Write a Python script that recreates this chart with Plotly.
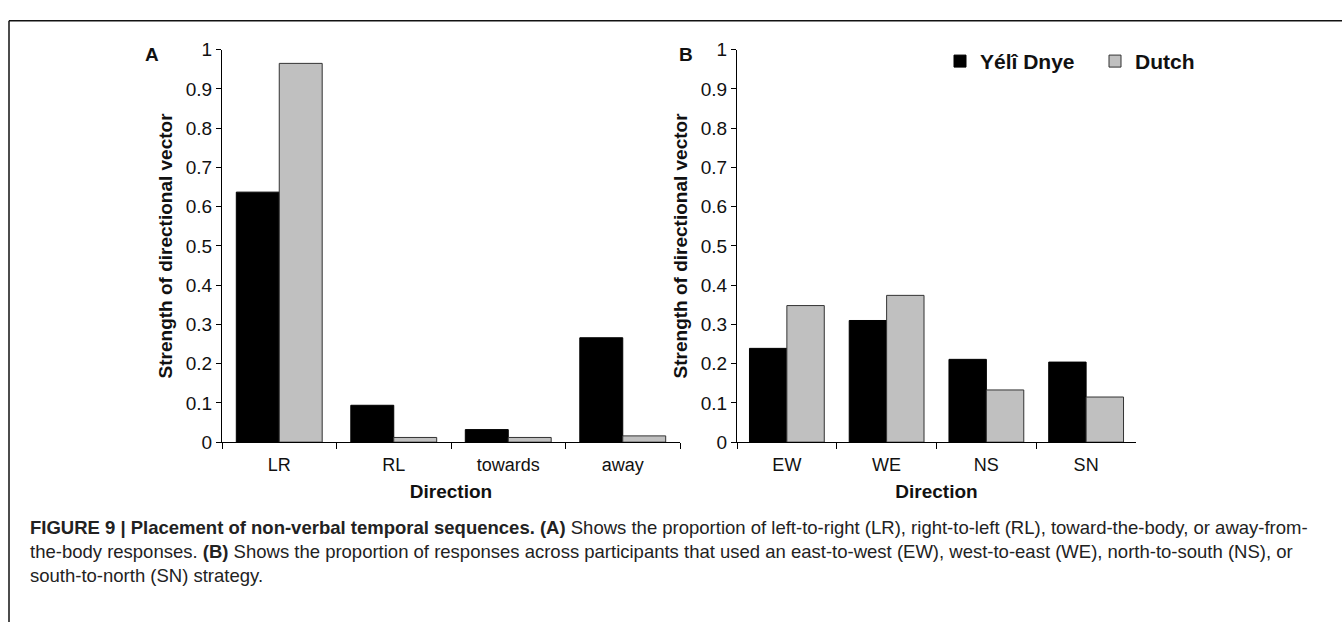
import plotly.graph_objects as go

# ---- data ----
cats_a = ["LR", "RL", "towards", "away"]
yeli_a = [0.637, 0.094, 0.032, 0.266]
dutch_a = [0.965, 0.012, 0.012, 0.016]

cats_b = ["EW", "WE", "NS", "SN"]
yeli_b = [0.239, 0.310, 0.211, 0.204]
dutch_b = [0.348, 0.374, 0.133, 0.115]

series_names = ["Yélî Dnye", "Dutch"]
y_tickvals = [0, 0.1, 0.2, 0.3, 0.4, 0.5, 0.6, 0.7, 0.8, 0.9, 1]
y_ticktext = ["0", "0.1", "0.2", "0.3", "0.4", "0.5", "0.6", "0.7", "0.8", "0.9", "1"]

W, H = 1342, 633
FONT = "Arial, Liberation Sans, Helvetica, sans-serif"
BLACK = "#000000"
GRAY = "#C0C0C0"
TXT = "#111111"


def px(x):
    return x / W


def py(y):
    return 1 - y / H


fig = go.Figure()
fig.add_trace(go.Bar(x=cats_a, y=yeli_a, name=series_names[0], xaxis="x", yaxis="y",
                     marker=dict(color=BLACK, line=dict(color=BLACK, width=1)),
                     showlegend=True, legendgroup="y"))
fig.add_trace(go.Bar(x=cats_a, y=dutch_a, name=series_names[1], xaxis="x", yaxis="y",
                     marker=dict(color=GRAY, line=dict(color="#333333", width=1)),
                     showlegend=True, legendgroup="d"))
fig.add_trace(go.Bar(x=cats_b, y=yeli_b, name=series_names[0], xaxis="x2", yaxis="y2",
                     marker=dict(color=BLACK, line=dict(color=BLACK, width=1)),
                     showlegend=False, legendgroup="y"))
fig.add_trace(go.Bar(x=cats_b, y=dutch_b, name=series_names[1], xaxis="x2", yaxis="y2",
                     marker=dict(color=GRAY, line=dict(color="#333333", width=1)),
                     showlegend=False, legendgroup="d"))

ydom = [py(447), py(41)]
common_x = dict(type="category", showline=True, linecolor=BLACK, linewidth=1,
                ticks="outside", tickson="boundaries", ticklen=6, tickcolor=BLACK,
                showgrid=False, zeroline=False, ticklabelstandoff=6,
                tickfont=dict(family=FONT, size=18, color=TXT))
common_y = dict(range=[0, 1], tickvals=y_tickvals, ticktext=y_ticktext,
                showline=True, linecolor=BLACK, linewidth=1,
                ticks="outside", ticklen=5, tickcolor=BLACK,
                showgrid=False, zeroline=False,
                tickfont=dict(family=FONT, size=19, color=TXT))

xtitle_font = dict(family=FONT, size=19, color=TXT)
ytitle_font = dict(family=FONT, size=19, color=TXT)

fig.update_layout(
    width=W, height=H,
    margin=dict(l=0, r=0, t=0, b=0),
    paper_bgcolor="white", plot_bgcolor="white",
    barmode="group", bargap=0.25, bargroupgap=0,
    font=dict(family=FONT, color=TXT),
    xaxis=dict(domain=[px(222), px(680)], anchor="y",
               title=dict(text="<b>Direction</b>", font=xtitle_font, standoff=10),
               **common_x),
    yaxis=dict(domain=ydom, anchor="x",
               title=dict(text="<b>Strength of directional vector</b>", font=ytitle_font, standoff=8),
               **common_y),
    xaxis2=dict(domain=[px(737), px(1136)], anchor="y2",
                title=dict(text="<b>Direction</b>", font=xtitle_font, standoff=10),
                **common_x),
    yaxis2=dict(domain=ydom, anchor="x2",
                title=dict(text="<b>Strength of directional vector</b>", font=ytitle_font, standoff=8),
                **common_y),
    legend=dict(orientation="h", x=px(940), y=py(32), xanchor="left", yanchor="top",
                font=dict(family=FONT, size=21, color=TXT, weight="bold"),
                bgcolor="rgba(0,0,0,0)", itemwidth=30, entrywidth=110,
                traceorder="normal"),
    showlegend=True,
)

annotations = [
    dict(text="<b>A</b>", x=px(152), y=py(46), xref="paper", yref="paper",
         showarrow=False, font=dict(family=FONT, size=19, color=TXT),
         xanchor="center", yanchor="middle"),
    dict(text="<b>B</b>", x=px(686), y=py(46), xref="paper", yref="paper",
         showarrow=False, font=dict(family=FONT, size=19, color=TXT),
         xanchor="center", yanchor="middle"),
    dict(text=("<b>FIGURE 9 | Placement of non-verbal temporal sequences. (A)</b> Shows the proportion of "
               "left-to-right (LR), right-to-left (RL), toward-the-body, or away-from-<br>"
               "the-body responses. <b>(B)</b> Shows the proportion of responses across participants that "
               "used an east-to-west (EW), west-to-east (WE), north-to-south (NS), or<br>"
               "south-to-north (SN) strategy."),
         x=px(28), y=py(522), xref="paper", yref="paper", showarrow=False,
         align="left", xanchor="left", yanchor="top",
         font=dict(family=FONT, size=18.5, color="#222222")),
]
fig.update_layout(annotations=annotations)

shapes = [
    dict(type="line", xref="paper", yref="paper", x0=px(9), x1=1.0, y0=py(11), y1=py(11),
         line=dict(color="#111111", width=1.5)),
    dict(type="line", xref="paper", yref="paper", x0=px(9), x1=px(9), y0=0, y1=py(11),
         line=dict(color="#111111", width=1.5)),
]
fig.update_layout(shapes=shapes)

fig.write_html("out.html", config={"displayModeBar": False},
               post_script="document.body.style.margin='0';document.body.style.overflow='hidden';")
